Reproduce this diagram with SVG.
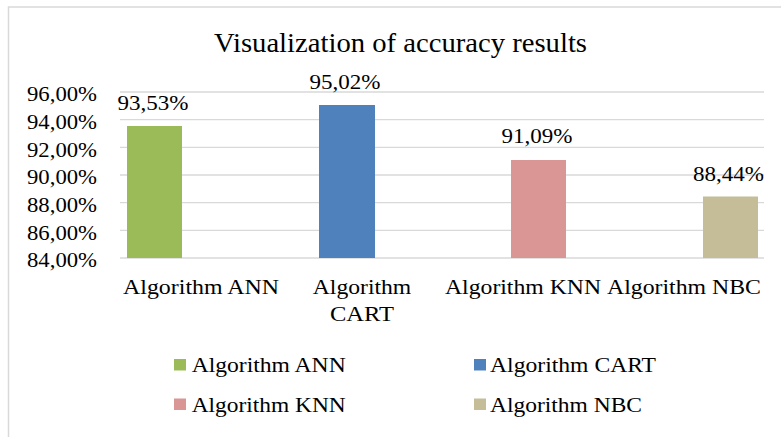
<svg xmlns="http://www.w3.org/2000/svg" width="781" height="437" viewBox="0 0 781 437">
<style>
text{font-family:"Liberation Serif","Times New Roman",serif;fill:#000;font-size:22px}
.grid{stroke:#d9d9d9;stroke-width:1.3;fill:none}
.ylab{text-anchor:end}
.mid{text-anchor:middle}
</style>
<rect x="0" y="0" width="781" height="437" fill="#fff"/>
<path d="M8.5,437 V7 H781" fill="none" stroke="#d9d9d9" stroke-width="1.5"/>
<text id="title" x="214" y="52" style="font-size:27px" textLength="373" lengthAdjust="spacingAndGlyphs">Visualization of accuracy results</text>
<g id="gridlines">
<line class="grid" x1="120" y1="92" x2="764" y2="92"/>
<line class="grid" x1="120" y1="119.7" x2="764" y2="119.7"/>
<line class="grid" x1="120" y1="147.3" x2="764" y2="147.3"/>
<line class="grid" x1="120" y1="175" x2="764" y2="175"/>
<line class="grid" x1="120" y1="202.7" x2="764" y2="202.7"/>
<line class="grid" x1="120" y1="230.3" x2="764" y2="230.3"/>
<line x1="120" y1="258" x2="764" y2="258" stroke="#d9d9d9" stroke-width="1.6"/>
</g>
<g id="yaxis">
<text class="ylab" x="97" y="101.3" textLength="70" lengthAdjust="spacingAndGlyphs">96,00%</text>
<text class="ylab" x="97" y="129" textLength="70" lengthAdjust="spacingAndGlyphs">94,00%</text>
<text class="ylab" x="97" y="156.6" textLength="70" lengthAdjust="spacingAndGlyphs">92,00%</text>
<text class="ylab" x="97" y="184.3" textLength="70" lengthAdjust="spacingAndGlyphs">90,00%</text>
<text class="ylab" x="97" y="212" textLength="70" lengthAdjust="spacingAndGlyphs">88,00%</text>
<text class="ylab" x="97" y="239.6" textLength="70" lengthAdjust="spacingAndGlyphs">86,00%</text>
<text class="ylab" x="97" y="267.3" textLength="70" lengthAdjust="spacingAndGlyphs">84,00%</text>
</g>
<g id="bar-ann">
<rect x="127" y="126" width="55" height="132" fill="#9bbb59"/>
<text class="mid" x="153" y="109.7" textLength="71" lengthAdjust="spacingAndGlyphs">93,53%</text>
</g>
<g id="bar-cart">
<rect x="319" y="105" width="56" height="153" fill="#4f81bd"/>
<text class="mid" x="345" y="88.5" textLength="71" lengthAdjust="spacingAndGlyphs">95,02%</text>
</g>
<g id="bar-knn">
<rect x="511" y="160" width="55" height="98" fill="#d99694"/>
<text class="mid" x="537" y="143.2" textLength="71" lengthAdjust="spacingAndGlyphs">91,09%</text>
</g>
<g id="bar-nbc">
<rect x="703" y="196.5" width="55" height="61.5" fill="#c4bd97"/>
<text class="mid" x="728.5" y="181.2" textLength="71" lengthAdjust="spacingAndGlyphs">88,44%</text>
</g>
<g id="xaxis">
<text class="mid" x="201" y="294" textLength="156" lengthAdjust="spacingAndGlyphs">Algorithm ANN</text>
<text class="mid" x="362" y="294" textLength="98.5" lengthAdjust="spacingAndGlyphs">Algorithm</text>
<text class="mid" x="362" y="321" textLength="64" lengthAdjust="spacingAndGlyphs">CART</text>
<text class="mid" x="523" y="294" textLength="156" lengthAdjust="spacingAndGlyphs">Algorithm KNN</text>
<text class="mid" x="684" y="294" textLength="154" lengthAdjust="spacingAndGlyphs">Algorithm NBC</text>
</g>
<g id="legend">
<g id="legend-ann"><rect x="174" y="359" width="12" height="11.5" fill="#9bbb59"/><text x="191.7" y="372.3" textLength="154" lengthAdjust="spacingAndGlyphs">Algorithm ANN</text></g>
<g id="legend-cart"><rect x="474" y="359" width="12" height="11.5" fill="#4f81bd"/><text x="490" y="372.3" textLength="166" lengthAdjust="spacingAndGlyphs">Algorithm CART</text></g>
<g id="legend-knn"><rect x="174" y="398.5" width="12" height="11.5" fill="#d99694"/><text x="191.7" y="412.3" textLength="154" lengthAdjust="spacingAndGlyphs">Algorithm KNN</text></g>
<g id="legend-nbc"><rect x="474" y="398.5" width="12" height="11.5" fill="#c4bd97"/><text x="490" y="412.3" textLength="152" lengthAdjust="spacingAndGlyphs">Algorithm NBC</text></g>
</g>
</svg>
